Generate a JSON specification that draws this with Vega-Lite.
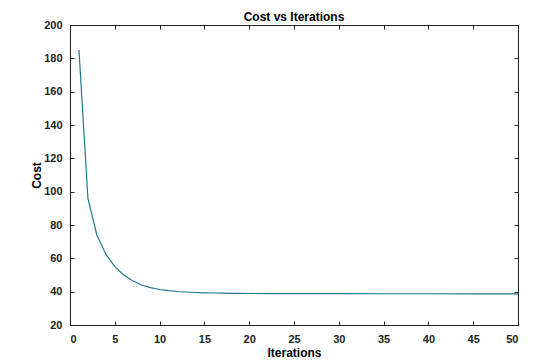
{
  "$schema": "https://vega.github.io/schema/vega-lite/v6.json",
  "autosize": "none",
  "width": 448,
  "height": 300,
  "padding": {"left": 70, "top": 25, "right": 22, "bottom": 39},
  "background": "white",
  "title": {"text": "Cost vs Iterations", "font": "Liberation Sans", "fontSize": 12, "fontWeight": "bold", "color": "#000", "offset": -5, "anchor": "middle"},
  "data": {"values": [
    {"it": 1, "cost": 185}, {"it": 2, "cost": 96}, {"it": 3, "cost": 74}, {"it": 4, "cost": 62.5},
    {"it": 5, "cost": 55}, {"it": 6, "cost": 50}, {"it": 7, "cost": 46.5}, {"it": 8, "cost": 44},
    {"it": 9, "cost": 42.4}, {"it": 10, "cost": 41.3}, {"it": 11, "cost": 40.6}, {"it": 12, "cost": 40.1},
    {"it": 13, "cost": 39.8}, {"it": 14, "cost": 39.5}, {"it": 15, "cost": 39.3}, {"it": 16, "cost": 39.2},
    {"it": 17, "cost": 39.1}, {"it": 18, "cost": 39.0}, {"it": 19, "cost": 38.95}, {"it": 20, "cost": 38.9},
    {"it": 22, "cost": 38.85}, {"it": 25, "cost": 38.8}, {"it": 30, "cost": 38.78}, {"it": 35, "cost": 38.76},
    {"it": 40, "cost": 38.74}, {"it": 45, "cost": 38.72}, {"it": 50, "cost": 38.7}
  ]},
  "layer": [
    {
      "mark": {"type": "line", "color": "#1f7a8c", "strokeWidth": 1.2},
      "encoding": {
        "x": {"field": "it", "type": "quantitative", "scale": {"domain": [0, 50], "nice": false}, "title": "Iterations",
              "axis": {"values": [0,5,10,15,20,25,30,35,40,45,50], "orient": "bottom"}},
        "y": {"field": "cost", "type": "quantitative", "scale": {"domain": [20, 200], "nice": false, "zero": false}, "title": "Cost",
              "axis": {"values": [20,40,60,80,100,120,140,160,180,200], "orient": "left"}}
      }
    },
    {
      "mark": {"type": "line", "opacity": 0},
      "encoding": {
        "x": {"field": "it", "type": "quantitative", "axis": {"orient": "top", "values": [0,5,10,15,20,25,30,35,40,45,50], "labels": false, "title": null}},
        "y": {"field": "cost", "type": "quantitative", "axis": {"orient": "right", "values": [20,40,60,80,100,120,140,160,180,200], "labels": false, "title": null}}
      }
    }
  ],
  "resolve": {"axis": {"x": "independent", "y": "independent"}},
  "config": {
    "view": {"stroke": "#222", "strokeWidth": 1},
    "axis": {
      "grid": false,
      "domain": false,
      "tickSize": -4,
      "tickColor": "#222",
      "labelFont": "Liberation Sans",
      "labelFontSize": 11,
      "labelFontWeight": "bold",
      "labelColor": "#222",
      "labelPadding": 12,
      "titleFont": "Liberation Sans",
      "titleFontSize": 12,
      "titleFontWeight": "bold",
      "titleColor": "#000"
    },
    "axisBottom": {"titlePadding": 3},
    "axisLeft": {"titlePadding": 0}
  }
}
